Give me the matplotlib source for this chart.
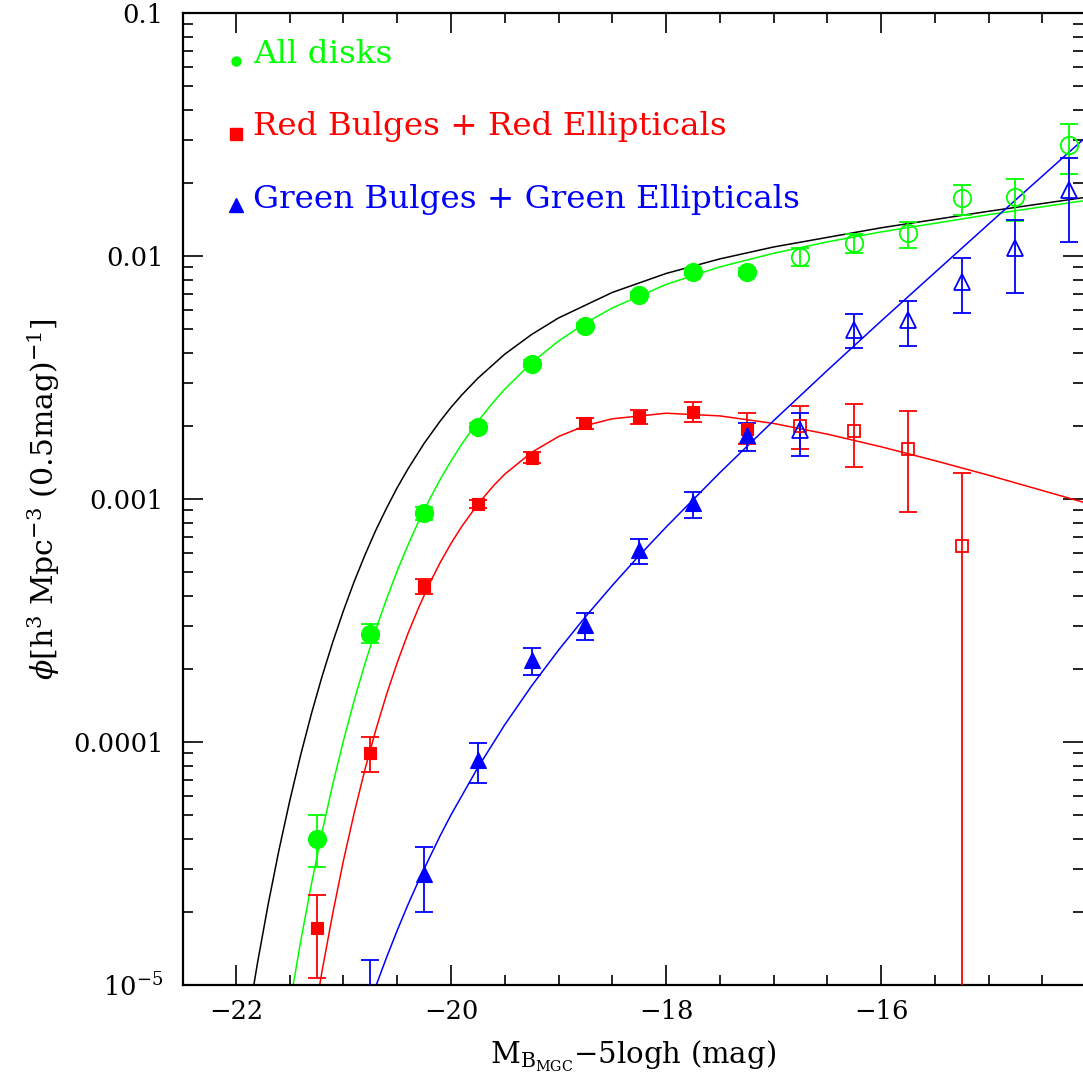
import numpy as np
import matplotlib
matplotlib.use("Agg")
import matplotlib.pyplot as plt
from matplotlib.ticker import LogLocator, MultipleLocator, NullFormatter

plt.rcParams['font.family'] = ['DejaVu Serif']
plt.rcParams['mathtext.fontset'] = 'dejavuserif'

# ---------------- data ----------------
M_bins = [-21.25, -20.75, -20.25, -19.75, -19.25, -18.75, -18.25, -17.75, -17.25,
          -16.75, -16.25, -15.75, -15.25, -14.75, -14.25]
n_filled = 9  # first 9 bins are filled symbols, rest open

# All disks (green)
disk_phi = [4.0e-5, 2.78e-4, 8.75e-4, 1.98e-3, 3.61e-3, 5.16e-3, 6.92e-3, 8.59e-3, 8.61e-3,
            9.93e-3, 1.127e-2, 1.239e-2, 1.726e-2, 1.754e-2, 2.86e-2]
disk_hi = [5.01e-5, 3.05e-4, 9.3e-4, 2.06e-3, 3.73e-3, 5.3e-3, 7.1e-3, 8.85e-3, 8.95e-3,
           1.081e-2, 1.227e-2, 1.384e-2, 1.959e-2, 2.075e-2, 3.49e-2]
disk_lo = [3.05e-5, 2.55e-4, 8.2e-4, 1.90e-3, 3.49e-3, 5.02e-3, 6.74e-3, 8.33e-3, 8.27e-3,
           9.12e-3, 1.026e-2, 1.081e-2, 1.476e-2, 1.396e-2, 2.17e-2]

# Red bulges + red ellipticals
red_phi = [1.71e-5, 9.04e-5, 4.39e-4, 9.53e-4, 1.48e-3, 2.05e-3, 2.18e-3, 2.29e-3, 1.95e-3,
           2.00e-3, 1.91e-3, 1.61e-3, 6.43e-4]
red_hi = [2.34e-5, 1.05e-4, 4.69e-4, 9.9e-4, 1.56e-3, 2.16e-3, 2.32e-3, 2.50e-3, 2.26e-3,
          2.42e-3, 2.46e-3, 2.31e-3, 1.28e-3]
red_lo = [1.07e-5, 7.55e-5, 4.06e-4, 9.18e-4, 1.41e-3, 1.94e-3, 2.04e-3, 2.08e-3, 1.68e-3,
          1.60e-3, 1.35e-3, 8.87e-4, 1e-9]

# Green bulges + green ellipticals (blue)
blue_phi = [6.0e-6, 2.86e-5, 8.43e-5, 2.17e-4, 3.03e-4, 6.17e-4, 9.66e-4, 1.83e-3,
            1.92e-3, 4.95e-3, 5.46e-3, 7.83e-3, 1.076e-2, 1.87e-2]
blue_hi = [1.27e-5, 3.71e-5, 9.89e-5, 2.43e-4, 3.39e-4, 6.82e-4, 1.07e-3, 2.05e-3,
           2.25e-3, 5.75e-3, 6.53e-3, 9.84e-3, 1.406e-2, 2.54e-2]
blue_lo = [3.0e-6, 1.99e-5, 6.81e-5, 1.89e-4, 2.63e-4, 5.41e-4, 8.32e-4, 1.58e-3,
           1.50e-3, 4.17e-3, 4.27e-3, 5.85e-3, 7.06e-3, 1.146e-2]
M_blue = M_bins[1:]
n_filled_blue = 8

# Fitted curves: log10(phi)
black_M = [-22.0, -21.9, -21.8, -21.7, -21.6, -21.5, -21.4, -21.3, -21.2, -21.1, -21.0,
           -20.9, -20.8, -20.7, -20.6, -20.5, -20.4, -20.25, -20.1, -20.0, -19.9, -19.75,
           -19.5, -19.25, -19.0, -18.5, -18.0, -17.5, -17.0, -16.0, -15.0, -14.12]
black_log = [-5.465, -5.175, -4.909, -4.666, -4.444, -4.242, -4.056, -3.886, -3.731, -3.589, -3.459,
             -3.339, -3.230, -3.129, -3.038, -2.953, -2.876, -2.771, -2.679, -2.623, -2.572, -2.503,
             -2.404, -2.323, -2.255, -2.150, -2.072, -2.012, -1.963, -1.884, -1.816, -1.760]

green_M = [-21.6, -21.5, -21.4, -21.3, -21.2, -21.1, -21.0, -20.9, -20.8, -20.7, -20.6, -20.5,
           -20.4, -20.3, -20.2, -20.1, -20.0, -19.9, -19.75, -19.6, -19.5, -19.25, -19.0,
           -18.75, -18.5, -18.0, -17.5, -17.0, -16.5, -16.0, -15.0, -14.12]
green_log = [-5.365, -5.082, -4.824, -4.588, -4.372, -4.174, -3.994, -3.828, -3.677, -3.538, -3.412, -3.295,
             -3.189, -3.091, -3.002, -2.919, -2.844, -2.774, -2.680, -2.598, -2.548, -2.439, -2.350,
             -2.276, -2.214, -2.117, -2.045, -1.989, -1.942, -1.901, -1.830, -1.773]

red_M = [-21.3, -21.2, -21.1, -21.0, -20.9, -20.8, -20.7, -20.6, -20.5, -20.4, -20.3, -20.2,
         -20.1, -20.0, -19.9, -19.75, -19.6, -19.5, -19.25, -19.0, -18.75, -18.5, -18.0,
         -17.5, -17.0, -16.5, -16.0, -15.5, -15.0, -14.5, -14.12]
red_log = [-5.207, -4.944, -4.705, -4.487, -4.291, -4.112, -3.951, -3.805, -3.673, -3.553, -3.446, -3.348,
           -3.261, -3.183, -3.113, -3.021, -2.943, -2.898, -2.808, -2.743, -2.698, -2.670, -2.647,
           -2.658, -2.689, -2.733, -2.785, -2.842, -2.902, -2.965, -3.013]

blue_M = [-20.8, -20.7, -20.6, -20.5, -20.4, -20.3, -20.25, -20.1, -20.0, -19.75, -19.5, -19.25,
          -19.0, -18.75, -18.5, -18.25, -18.0, -17.5, -17.0, -16.5, -16.0, -15.0, -14.12]
blue_log = [-5.133, -5.006, -4.887, -4.775, -4.669, -4.570, -4.522, -4.385, -4.300, -4.105, -3.929, -3.769,
            -3.622, -3.485, -3.356, -3.233, -3.116, -2.892, -2.678, -2.471, -2.268, -1.869, -1.521]

ytick_vals = [1e-5, 1e-4, 1e-3, 1e-2, 1e-1]
ytick_labels = [r'10$^{-5}$', '0.0001', '0.001', '0.01', '0.1']
xtick_vals = [-22, -20, -18, -16]
xtick_labels = ['\u221222', '\u221220', '\u221218', '\u221216']

legend_labels = ['All disks', 'Red Bulges + Red Ellipticals', 'Green Bulges + Green Ellipticals']

GREEN, RED, BLUE = '#00ff00', '#ff0000', '#0000ff'

# ---------------- figure ----------------
fig = plt.figure(figsize=(10.83, 10.86), dpi=100)
ax = fig.add_axes([183/1083, 1-985/1086, 900/1083, 972/1086])
ax.set_yscale('log')
ax.set_xlim(-22.493, -14.121)
ax.set_ylim(1e-5, 0.1)

lw = 1.1
ax.plot(black_M, 10**np.array(black_log), color='black', lw=lw, zorder=2)
ax.plot(green_M, 10**np.array(green_log), color=GREEN, lw=lw, zorder=2)
ax.plot(red_M, 10**np.array(red_log), color=RED, lw=lw, zorder=2)
ax.plot(blue_M, 10**np.array(blue_log), color=BLUE, lw=lw, zorder=2)


def draw(Ms, phi, hi, lo, nfill, color, marker, ms_f, ms_o):
    Ms = np.array(Ms); phi = np.array(phi); hi = np.array(hi); lo = np.array(lo)
    yerr = np.vstack([phi - lo, hi - phi])
    ax.errorbar(Ms, phi, yerr=yerr, fmt='none', ecolor=color, elinewidth=1.3,
                capsize=6.2, capthick=1.3, zorder=3)
    ax.plot(Ms[:nfill], phi[:nfill], ls='none', marker=marker, ms=ms_f,
            mfc=color, mec=color, mew=0.8, zorder=4)
    ax.plot(Ms[nfill:], phi[nfill:], ls='none', marker=marker, ms=ms_o,
            mfc='none', mec=color, mew=1.3, zorder=4)


draw(M_bins, disk_phi, disk_hi, disk_lo, n_filled, GREEN, 'o', 13.0, 12.5)
draw(M_bins[:len(red_phi)], red_phi, red_hi, red_lo, n_filled, RED, 's', 9.3, 9.0)
draw(M_blue, blue_phi, blue_hi, blue_lo, n_filled_blue, BLUE, '^', 11.0, 11.5)

# legend (manual)
ax_tr = ax.transAxes
leg_y_marker = [0.9506, 0.8755, 0.8025]
leg_y_text = [0.9485, 0.8744, 0.7994]
leg_colors = [GREEN, RED, BLUE]
leg_markers = ['o', 's', '^']
leg_ms = [6.5, 9.0, 10.0]
for lab, ym, yt, c, mk, ms in zip(legend_labels, leg_y_marker, leg_y_text, leg_colors, leg_markers, leg_ms):
    ax.plot([0.0589], [ym], transform=ax_tr, marker=mk, ms=ms, color=c, mec=c, ls='none',
            clip_on=False, zorder=5)
    ax.text(0.0778, yt, lab, transform=ax_tr, color=c, fontsize=23.4, va='baseline', ha='left')

# ticks
ax.set_xticks(xtick_vals)
ax.set_xticklabels(xtick_labels)
ax.xaxis.set_minor_locator(MultipleLocator(0.5))
ax.set_yticks(ytick_vals)
ax.set_yticklabels(ytick_labels)
ax.yaxis.set_minor_locator(LogLocator(base=10, subs=np.arange(2, 10), numticks=20))
ax.yaxis.set_minor_formatter(NullFormatter())
ax.tick_params(which='both', direction='in', top=True, right=True, width=1.2, colors='black')
ax.tick_params(which='major', length=14.4)
ax.tick_params(which='minor', length=7.2)
ax.tick_params(axis='x', which='major', labelsize=18.5, pad=10)
ax.tick_params(axis='y', which='major', labelsize=18.5, pad=14)
for s in ax.spines.values():
    s.set_linewidth(1.6)
ax.spines['right'].set_visible(False)

ax.set_xlabel(r'M$_{\mathrm{B}_{\mathrm{MGC}}}$$-$5logh (mag)', fontsize=21, labelpad=11)
ax.set_ylabel(r'$\phi$[h$^3$ Mpc$^{-3}$ (0.5mag)$^{-1}$]', fontsize=21.5, labelpad=8)

fig.savefig('out.png', dpi=100)
